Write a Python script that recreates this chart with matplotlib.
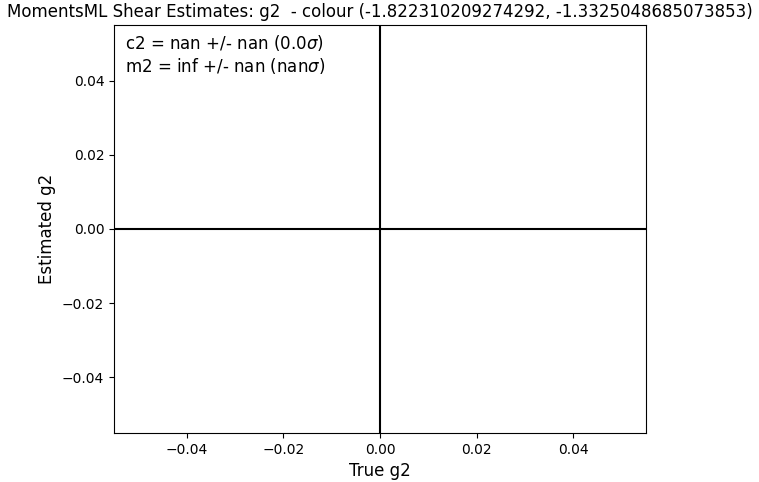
import matplotlib
matplotlib.use("Agg")
import matplotlib.pyplot as plt

# no points survived the cuts, only the fit summary is left
true_g2 = []
est_g2 = []
c2_text = r"c2 = nan +/- nan (0.0$\sigma$)"
m2_text = r"m2 = inf +/- nan (nan$\sigma$)"
colour_range = (-1.822310209274292, -1.3325048685073853)
lim = 0.055

fig = plt.figure(figsize=(7.59, 4.82), dpi=100)
ax = fig.add_axes([114/759, 1-433/482, (646-114)/759, (433-25)/482])

ax.plot(true_g2, est_g2, "o")
ax.axhline(0, color="k", lw=1.5)
ax.axvline(0, color="k", lw=1.5)
ax.set_xlim(-lim, lim)
ax.set_ylim(-lim, lim)

ax.text(0.02, 0.98, c2_text + "\n" + m2_text, transform=ax.transAxes,
        va="top", ha="left", fontsize=12)

ax.set_title("MomentsML Shear Estimates: g2  - colour " + str(colour_range), fontsize=12)
ax.set_xlabel("True g2", fontsize=12)
ax.set_ylabel("Estimated g2", fontsize=12)

fig.savefig("out.png", dpi=100)
